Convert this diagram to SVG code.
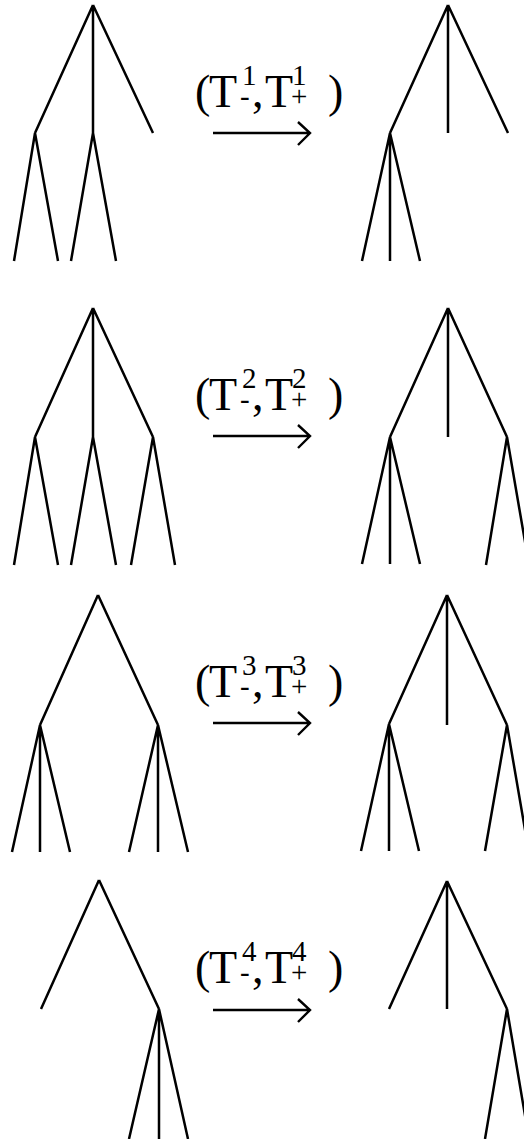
<svg xmlns="http://www.w3.org/2000/svg" width="524" height="1139" viewBox="0 0 524 1139">
<style>
.t{stroke:#000;stroke-width:2.5;fill:none;stroke-linecap:butt}
.a{stroke:#000;stroke-width:2.4;fill:none}
.lb{font-family:"Liberation Serif","Times New Roman",serif;font-size:46px;fill:#000}
.sm{font-size:29px}
</style>
<rect width="524" height="1139" fill="#fff"/>
<g id="tree1-left" class="t">
<path d="M93,5 L35,133 M93,5 L93,133 M93,5 L153,133 M35,133 L14,261 M35,133 L58,261 M93,133 L71,261 M93,133 L116,261"/>
</g>
<g id="tree1-right" class="t">
<path d="M448,5 L390,133 M448,5 L448,133 M448,5 L508,133 M390,133 L362,261 M390,133 L390,261 M390,133 L420,261"/>
</g>
<g id="tree2-left" class="t">
<path d="M93,308 L35,437 M93,308 L93,437 M93,308 L153,437 M35,437 L14,565 M35,437 L58,565 M93,437 L71,565 M93,437 L116,565 M153,437 L131,565 M153,437 L175,565"/>
</g>
<g id="tree2-right" class="t">
<path d="M448,308 L390,437 M448,308 L448,437 M448,308 L507,437 M390,437 L362,564 M390,437 L390,564 M390,437 L420,564 M507,437 L486,565 M507,437 L529,565"/>
</g>
<g id="tree3-left" class="t">
<path d="M98,595 L40,725 M98,595 L158,725 M40,725 L12,852 M40,725 L40,852 M40,725 L70,852 M158,725 L129,852 M158,725 L158,852 M158,725 L188,852"/>
</g>
<g id="tree3-right" class="t">
<path d="M447,595 L389,724 M447,595 L447,725 M447,595 L507,725 M389,724 L361,851 M389,724 L389,851 M389,724 L419,851 M507,725 L485,851 M507,725 L529,853"/>
</g>
<g id="tree4-left" class="t">
<path d="M99,880 L41,1009 M99,880 L159,1009 M159,1009 L129,1139 M159,1009 L159,1139 M159,1009 L188,1139"/>
</g>
<g id="tree4-right" class="t">
<path d="M447,881 L389,1009 M447,881 L447,1009 M447,881 L507,1009 M507,1009 L485,1139 M507,1009 L529,1139"/>
</g>
<g id="labels">
<g id="label1" class="lb">
<text x="195" y="107">(</text><text x="209" y="107">T</text><text class="sm" x="240" y="106">-</text><text class="sm" x="242" y="85">1</text><text x="252" y="107">,</text><text x="265" y="107">T</text><text class="sm" x="291" y="106">+</text><text class="sm" x="292" y="85">1</text><text x="328" y="107">)</text>
</g>
<g id="label2" class="lb">
<text x="195" y="410">(</text><text x="209" y="410">T</text><text class="sm" x="240" y="409">-</text><text class="sm" x="242" y="388">2</text><text x="252" y="410">,</text><text x="265" y="410">T</text><text class="sm" x="291" y="409">+</text><text class="sm" x="292" y="388">2</text><text x="328" y="410">)</text>
</g>
<g id="label3" class="lb">
<text x="195" y="697">(</text><text x="209" y="697">T</text><text class="sm" x="240" y="696">-</text><text class="sm" x="242" y="675">3</text><text x="252" y="697">,</text><text x="265" y="697">T</text><text class="sm" x="291" y="696">+</text><text class="sm" x="292" y="675">3</text><text x="328" y="697">)</text>
</g>
<g id="label4" class="lb">
<text x="195" y="983">(</text><text x="209" y="983">T</text><text class="sm" x="240" y="982">-</text><text class="sm" x="242" y="961">4</text><text x="252" y="983">,</text><text x="265" y="983">T</text><text class="sm" x="291" y="982">+</text><text class="sm" x="292" y="961">4</text><text x="328" y="983">)</text>
</g>
</g>
<g id="connectors" class="a">
<path d="M213,133 L310,133 M298,122 L310,133 L298,145"/>
<path d="M213,436 L310,436 M298,425 L310,436 L298,448"/>
<path d="M213,723 L310,723 M298,712 L310,723 L298,735"/>
<path d="M213,1010 L310,1010 M298,999 L310,1010 L298,1022"/>
</g>
</svg>
